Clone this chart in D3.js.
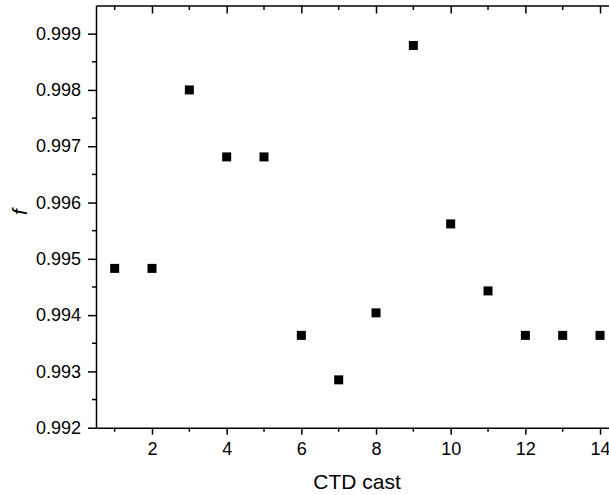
<!DOCTYPE html>
<html>
<head>
<meta charset="utf-8">
<script src="https://cdn.jsdelivr.net/npm/d3@7"></script>
<style>
  body { margin: 0; background: #fff; }
  svg { display: block; }
  text { font-family: "Liberation Sans", Arial, sans-serif; }
</style>
</head>
<body>
<svg id="chart" width="609" height="495"></svg>
<script>
const casts = [1, 2, 3, 4, 5, 6, 7, 8, 9, 10, 11, 12, 13, 14];
const fValues = [0.99483, 0.99483, 0.998, 0.99681, 0.99681, 0.99364, 0.99285,
  0.99404, 0.99879, 0.99562, 0.99443, 0.99364, 0.99364, 0.99364];
const xTicks = [2, 4, 6, 8, 10, 12, 14];
const yTicks = [0.992, 0.993, 0.994, 0.995, 0.996, 0.997, 0.998, 0.999];

const svg = d3.select('#chart');
const margin = { top: 5.5, left: 96, bottom: 427.7, right: 618.7 };
const font = '"Liberation Sans", Arial, sans-serif';

const x = d3.scaleLinear().domain([0.5, 14.5]).range([margin.left, margin.right]);
const y = d3.scaleLinear().domain([0.992, 0.9995]).range([margin.bottom, margin.top]);

const xMinor = d3.range(1, 15, 2);
const yMinor = d3.range(0, 15).map((i) => 0.9925 + i * 0.001).filter((v) => v < 0.9995);

const styleAxis = (g) => {
  g.attr('font-family', font);
  g.selectAll('path, line').attr('stroke', '#000').attr('stroke-width', 1.5);
  g.selectAll('text').attr('fill', '#000').style('font-size', '18px');
};

// bottom
const bottomAxis = svg.append('g').attr('transform', `translate(0,${margin.bottom})`);
bottomAxis.call(d3.axisBottom(x).tickValues(xTicks).tickSize(7).tickSizeOuter(0).tickPadding(8));
bottomAxis.append('g').selectAll('line').data(xMinor).join('line')
  .attr('x1', (d) => x(d)).attr('x2', (d) => x(d)).attr('y1', 0).attr('y2', 4);
bottomAxis.call(styleAxis);

// top
const topAxis = svg.append('g').attr('transform', `translate(0,${margin.top})`);
topAxis.call(d3.axisTop(x).tickValues(xTicks).tickSize(-8).tickSizeOuter(0).tickFormat(''));
topAxis.append('g').selectAll('line').data(xMinor).join('line')
  .attr('x1', (d) => x(d)).attr('x2', (d) => x(d)).attr('y1', 0).attr('y2', 4.5);
topAxis.call(styleAxis);

// left
const leftAxis = svg.append('g').attr('transform', `translate(${margin.left},0)`);
leftAxis.call(d3.axisLeft(y).tickValues(yTicks).tickSize(8).tickSizeOuter(0).tickPadding(7)
  .tickFormat(d3.format('.3f')));
leftAxis.append('g').selectAll('line').data(yMinor).join('line')
  .attr('y1', (d) => y(d)).attr('y2', (d) => y(d)).attr('x1', 0).attr('x2', -4);
leftAxis.call(styleAxis);

// points
const size = 9;
svg.append('g').selectAll('rect').data(casts).join('rect')
  .attr('x', (d) => x(d) - size / 2)
  .attr('y', (d, i) => y(fValues[i]) - size / 2)
  .attr('width', size).attr('height', size)
  .attr('fill', '#000');

// titles
svg.append('text')
  .attr('x', 357).attr('y', 489)
  .attr('text-anchor', 'middle')
  .style('font-size', '21px')
  .text('CTD cast');

svg.append('text')
  .attr('transform', 'translate(27,212) rotate(-90)')
  .attr('text-anchor', 'middle')
  .style('font-size', '21px')
  .style('font-style', 'italic')
  .text('f');
</script>
</body>
</html>
